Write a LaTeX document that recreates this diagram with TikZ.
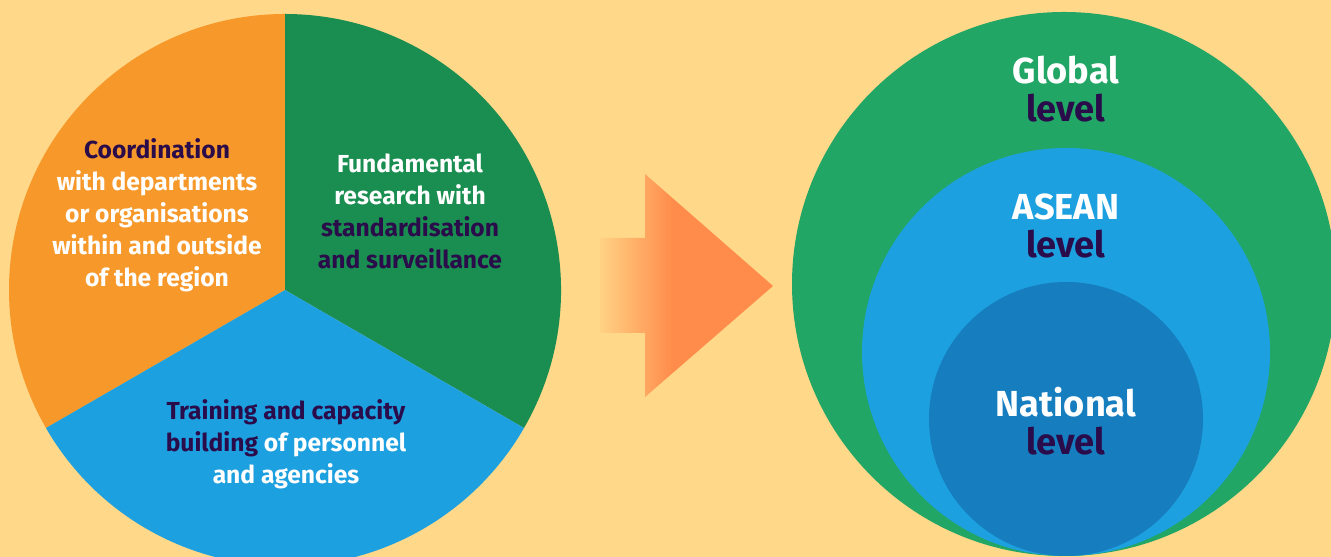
\documentclass[tikz,border=0pt]{standalone}
\usepackage{fontspec}
\setmainfont{Fira Sans}
\usepackage{tikz}

\begin{document}
\begin{tikzpicture}[x=0.2mm,y=0.2mm]
% Define colours
\definecolor{backdrop}{RGB}{255,216,137}
\definecolor{coordorange}{RGB}{247,152,42}
\definecolor{researchgreen}{RGB}{26,142,80}
\definecolor{trainingblue}{RGB}{29,160,223}
\definecolor{globalgreen}{RGB}{33,166,101}
\definecolor{aseanblue}{RGB}{29,160,223}
\definecolor{nationalblue}{RGB}{22,125,191}
\definecolor{deeppurple}{RGB}{42,12,74}
\definecolor{arroworange}{RGB}{255,140,75}
\pgfdeclarehorizontalshading{arrowfade}{100bp}{color(0bp)=(backdrop!92!arroworange); color(25bp)=(backdrop!92!arroworange); color(38bp)=(backdrop!35!arroworange); color(46bp)=(arroworange); color(100bp)=(arroworange)}
\tikzset{
  pietext/.style={align=center,text=white,font=\bfseries\fontsize{14}{18.2}\selectfont},
  leveltext/.style={align=center,text=white,font=\bfseries\fontsize{20.6}{21.6}\selectfont},
}

% Background
\fill[backdrop] (0,0) rectangle (1331,557);
\useasboundingbox (0,0) rectangle (1331,557);
\clip (0,0) rectangle (1331,557);

% Draw pie of activities
\fill[coordorange] (285,267) -- ++(90:276) arc (90:210:276) -- cycle;
\fill[researchgreen] (285,267) -- ++(-30:276) arc (-30:90:276) -- cycle;
\fill[trainingblue] (285,267) -- ++(210:276) arc (210:330:276) -- cycle;

% Add pie labels
\node[pietext] (coord) at (157,342) {{\color{deeppurple}Coordination}\\with departments\\or organisations\\within and outside\\of the region};
\node[pietext] (research) at (410,346) {Fundamental\\research with\\{\color{deeppurple}standardisation}\\{\color{deeppurple}and surveillance}};
\node[pietext] (training) at (286,113) {{\color{deeppurple}Training and capacity}\\{\color{deeppurple}building} of personnel\\and agencies};

% Draw arrow
\shade[shading=arrowfade]
  (600,319) -- (645,319) -- (645,383) -- (773,271) -- (645,160) -- (645,224) -- (600,224) -- cycle;

% Draw nested levels
\fill[globalgreen] (1064,273) circle (272);
\fill[aseanblue] (1066,205) circle (204);
\fill[nationalblue] (1066,138) circle (137);

% Add level labels
\node[leveltext] (global) at (1066,468) {Global\\{\color{deeppurple}level}};
\node[leveltext] (asean) at (1066,331) {ASEAN\\{\color{deeppurple}level}};
\node[leveltext] (national) at (1066,136) {National\\{\color{deeppurple}level}};
\end{tikzpicture}
\end{document}
